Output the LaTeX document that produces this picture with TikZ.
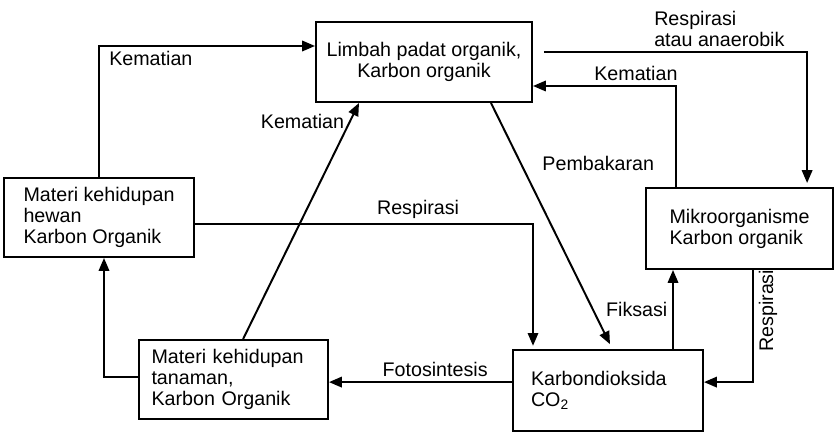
\documentclass[tikz,border=0pt]{standalone}
\usepackage{fontspec}
\setmainfont{Liberation Sans}
\usetikzlibrary{arrows.meta,positioning}
\tikzset{
  box/.style = {draw, line width=1.4pt, rectangle, inner sep=0pt, align=left},
  sig/.style = {-{Triangle[length=3.2mm,width=2.6mm]}, line width=1.4pt},
}

\begin{document}
\begin{tikzpicture}[x=1cm,y=1cm,font={\fontsize{14}{15}\selectfont}]
\useasboundingbox (0,0) rectangle (20.85,10.8);
\node[box,align=center,minimum width=5.4cm,minimum height=2cm] (L) at (10.6,9.25) {Limbah padat organik,\\Karbon organik};
\node[box,minimum width=4.75cm,minimum height=1.975cm] (H) at (2.475,5.3625) {Materi kehidupan\\hewan\\Karbon Organik};
\node[box,text width=4.1cm,minimum width=4.725cm,minimum height=1.975cm] (T) at (5.8375,1.3125) {Materi kehidupan\\tanaman,\\Karbon Organik};
\node[box,text width=3.85cm,minimum width=4.75cm,minimum height=2.025cm] (C) at (15.2,1.0375) {Karbondioksida\\CO\textsubscript{2}};
\node[box,minimum width=4.675cm,minimum height=2.025cm] (M) at (18.4875,5.0875) {Mikroorganisme\\Karbon organik};
% death of animals and plants
\draw[sig] (H.north) |- node[pos=0.62,below]{Kematian} ([yshift=4mm]L.west);
\draw[sig] ([xshift=2.4mm]T.north) -- node[pos=0.92,left]{Kematian} ([xshift=-16.25mm]L.south);
% waste to microorganisms and back
\draw[sig,shorten <=2.7mm] ([yshift=2.5mm]L.east) -| node[pos=0.34,above,align=left]{Respirasi\\atau anaerobik} ([xshift=16.9mm,yshift=1mm]M.north);
\draw[sig] ([xshift=-15.9mm]M.north) |- node[pos=0.64,above]{Kematian} ([yshift=-6mm]L.east);
% into CO2
\draw[sig] ([xshift=16.75mm]L.south) -- node[pos=0.25,right=4mm]{Pembakaran} ([xshift=0.5mm,yshift=1.2mm]C.north);
\draw[sig] ([yshift=-1.6mm]H.east) -| node[pos=0.33,above]{Respirasi} ([xshift=-18.75mm,yshift=0.8mm]C.north);
\draw[sig] ([xshift=3.4mm]M.south) |- node[pos=0.2,rotate=90,anchor=north,xshift=1mm]{Respirasi} ([yshift=2.1mm]C.east);
% out of CO2
\coordinate (c7) at ([yshift=2.1mm]C.west);
\draw[sig] (c7) -- node[pos=0.42,above]{Fotosintesis} (c7 -| T.east);
\coordinate (c9) at ([xshift=16.25mm]C.north);
\draw[sig] (c9) -- node[pos=0.5,left]{Fiksasi} (c9 |- M.south);
\draw[sig] ([yshift=0.6mm]T.west) -| ([xshift=1.25mm]H.south);
\end{tikzpicture}
\end{document}
